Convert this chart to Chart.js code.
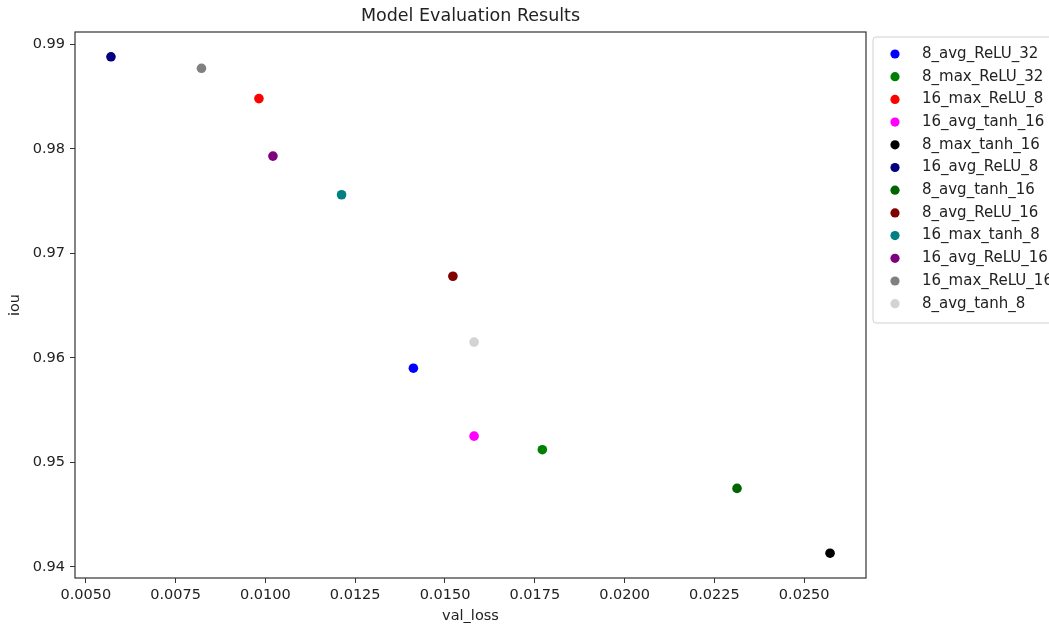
<!DOCTYPE html>
<html>
<head>
<meta charset="utf-8">
<script src="https://cdn.jsdelivr.net/npm/chart.js@4/dist/chart.umd.min.js"></script>
<style>
  html, body { margin: 0; padding: 0; background: #fff; overflow: hidden; }
  canvas { display: block; }
</style>
</head>
<body>
<canvas id="chart" width="1049" height="628"></canvas>
<script>
const modelNames = ['8_avg_ReLU_32', '8_max_ReLU_32', '16_max_ReLU_8', '16_avg_tanh_16',
  '8_max_tanh_16', '16_avg_ReLU_8', '8_avg_tanh_16', '8_avg_ReLU_16', '16_max_tanh_8',
  '16_avg_ReLU_16', '16_max_ReLU_16', '8_avg_tanh_8'];
const valLoss = [0.01412, 0.01771, 0.00982, 0.01581, 0.02572, 0.00570, 0.02313, 0.01522,
  0.01212, 0.01021, 0.00822, 0.01581];
const iou = [0.9590, 0.9512, 0.9848, 0.9525, 0.9413, 0.9888, 0.9475, 0.9678, 0.9756,
  0.9793, 0.9877, 0.9615];
const pointColors = ['blue', 'green', 'red', 'magenta', 'black', 'navy', 'darkgreen',
  'maroon', 'teal', 'purple', 'gray', 'lightgray'];
const xTicks = [0.005, 0.0075, 0.01, 0.0125, 0.015, 0.0175, 0.02, 0.0225, 0.025];
const yTicks = [0.94, 0.95, 0.96, 0.97, 0.98, 0.99];

const FONT = 'DejaVu Sans';
const TEXT = '#222';

// matplotlib-like 5% margins around the data
function padRange(vals) {
  const lo = Math.min(...vals), hi = Math.max(...vals);
  const m = (hi - lo) * 0.05;
  return [lo - m, hi + m];
}
const [xMin, xMax] = padRange(valLoss);
const [yMin, yMax] = padRange(iou);

const datasets = modelNames.map((name, i) => ({
  label: name,
  data: [{x: valLoss[i], y: iou[i]}],
  backgroundColor: pointColors[i],
  borderWidth: 0,
  pointRadius: 4.8
}));

// full box around the axes
const frame = {
  id: 'frame',
  afterDatasetsDraw(chart) {
    const {ctx, chartArea: a} = chart;
    ctx.save();
    ctx.strokeStyle = '#333';
    ctx.lineWidth = 1.2;
    ctx.strokeRect(a.left, a.top, a.right - a.left, a.bottom - a.top);
    ctx.restore();
  }
};

// legend outside the axes, upper left anchored at the right spine
const sideLegend = {
  id: 'sideLegend',
  afterDraw(chart) {
    const {ctx, chartArea: a} = chart;
    const x0 = a.right + 7, y0 = a.top + 5;
    const rowH = 22.7, h = 286, w = 220, r = 3;
    ctx.save();
    ctx.beginPath();
    ctx.moveTo(x0 + r, y0);
    ctx.lineTo(x0 + w, y0);
    ctx.lineTo(x0 + w, y0 + h);
    ctx.lineTo(x0 + r, y0 + h);
    ctx.arcTo(x0, y0 + h, x0, y0 + h - r, r);
    ctx.lineTo(x0, y0 + r);
    ctx.arcTo(x0, y0, x0 + r, y0, r);
    ctx.closePath();
    ctx.fillStyle = 'rgba(255,255,255,0.8)';
    ctx.fill();
    ctx.strokeStyle = '#d0d0d0';
    ctx.lineWidth = 1;
    ctx.stroke();
    ctx.font = '15px "' + FONT + '"';
    ctx.textBaseline = 'middle';
    chart.data.datasets.forEach((ds, i) => {
      const cy = y0 + 17 + i * rowH;
      ctx.beginPath();
      ctx.arc(x0 + 22, cy, 4.6, 0, Math.PI * 2);
      ctx.fillStyle = ds.backgroundColor;
      ctx.fill();
      ctx.fillStyle = TEXT;
      ctx.fillText(ds.label, x0 + 49, cy);
    });
    ctx.restore();
  }
};

new Chart(document.getElementById('chart'), {
  type: 'scatter',
  data: {datasets},
  options: {
    responsive: false,
    animation: false,
    devicePixelRatio: 1,
    layout: {padding: {left: 0, right: 183, top: 0, bottom: 0}},
    plugins: {
      legend: {display: false},
      tooltip: {enabled: false},
      title: {
        display: true,
        text: 'Model Evaluation Results',
        fullSize: false,
        color: TEXT,
        font: {family: FONT, size: 17.5, weight: 'normal'},
        padding: {top: 6, bottom: 5}
      }
    },
    scales: {
      x: {
        type: 'linear',
        min: xMin,
        max: xMax,
        afterBuildTicks: s => { s.ticks = xTicks.map(v => ({value: v})); },
        afterFit: s => { s.height = 50; },
        border: {display: false},
        grid: {drawOnChartArea: false, drawTicks: true, tickLength: 5, tickColor: '#333'},
        ticks: {
          color: TEXT,
          font: {family: FONT, size: 14.5},
          padding: 4,
          maxRotation: 0,
          callback: v => Number(v).toFixed(4)
        },
        title: {
          display: true,
          text: 'val_loss',
          color: TEXT,
          font: {family: FONT, size: 14.5},
          padding: {top: 0, bottom: 3}
        }
      },
      y: {
        type: 'linear',
        min: yMin,
        max: yMax,
        afterBuildTicks: s => { s.ticks = yTicks.map(v => ({value: v})); },
        afterFit: s => { s.width = 75; },
        border: {display: false},
        grid: {drawOnChartArea: false, drawTicks: true, tickLength: 5, tickColor: '#333'},
        ticks: {
          color: TEXT,
          font: {family: FONT, size: 14.5},
          padding: 5,
          callback: v => Number(v).toFixed(2)
        },
        title: {
          display: true,
          text: 'iou',
          color: TEXT,
          font: {family: FONT, size: 14.5},
          padding: {top: 7, bottom: 0}
        }
      }
    }
  },
  plugins: [frame, sideLegend]
});
</script>
</body>
</html>
